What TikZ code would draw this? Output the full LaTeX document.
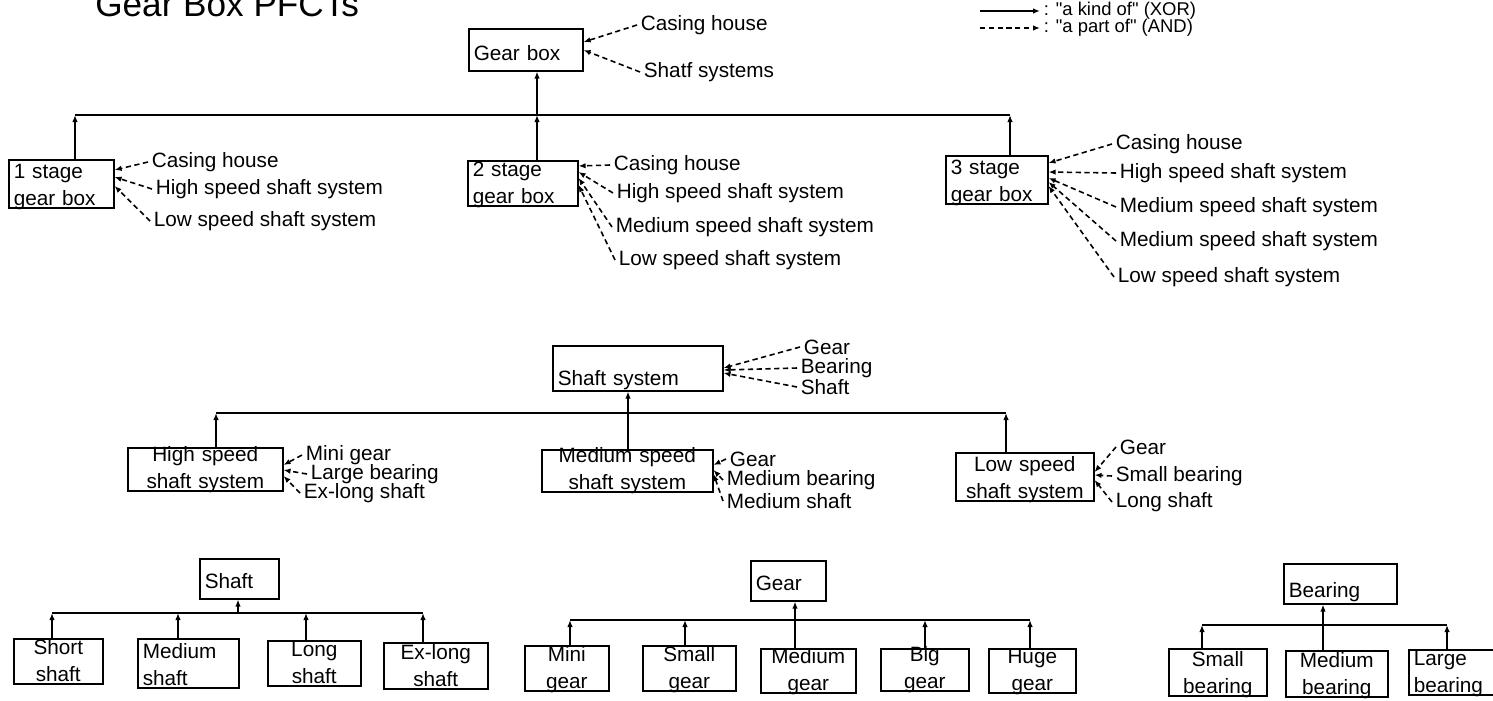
\documentclass[tikz,border=0pt]{standalone}
\usepackage{fontspec}
\setmainfont{Liberation Sans}
\newfontfamily\legendfont{Liberation Sans}
\usetikzlibrary{arrows.meta, positioning, calc}
\newcommand{\lblfont}{\fontsize{11.8}{15.4}\selectfont}

\begin{document}
\begin{tikzpicture}[
  x=0.02cm, y=-0.02cm,
  box/.style={draw, line width=0.9pt, anchor=north west, inner xsep=0.1cm,
              inner ysep=0pt, font=\lblfont},
  one/.style={box, align=left, text depth=0pt},
  two/.style={box, text depth=15.4pt},
  dims/.style n args={3}{text width=#1cm, minimum height=#2cm, text height=#3cm},
  lbl/.style={anchor=west, inner sep=2pt, font=\lblfont},
  kind/.style={-{Latex[length=1.4mm,width=1.1mm]}, line width=0.9pt},
  part/.style={kind, dash pattern=on 3pt off 2pt},
  bar/.style={line width=0.9pt}
]
  \useasboundingbox (0,0) rectangle (1493,700);

  % title and legend
  \node[anchor=base west, inner sep=0pt, font=\fontsize{20}{24}\selectfont] (title) at (95,16) {Gear Box PFCTs};
  \coordinate (k0) at (980,11);
  \coordinate (p0) at (980,28);
  \node[lbl, font=\legendfont\fontsize{10.5}{12}\selectfont] (kindtxt) at (1040,11) {: "a kind of" (XOR)};
  \node[lbl, font=\legendfont\fontsize{10.5}{12}\selectfont] (parttxt) at (1040,28) {: "a part of" (AND)};
  \draw[kind] (k0) -- (kindtxt.west);
  \draw[part] (p0) -- (parttxt.west);

  % gear box level
  \node[one, dims={2.08}{0.84}{0.44}] (gearbox) at (468,28) {Gear box};
  \node[lbl] (gb1) at (637,25) {Casing house};
  \node[lbl] (gb2) at (640,72) {Shatf systems};
  \draw[part] (gb1.west) -- (gearbox.east |- 0,42);
  \draw[part] (gb2.west) -- (gearbox.east |- 0,50);

  \node[two, align=left, dims={1.90}{0.96}{0.34}] (stage1) at (8,159) {1 stage\\gear box};
  \node[two, align=left, dims={2.00}{0.90}{0.28}] (stage2) at (467,160) {2 stage\\gear box};
  \node[two, align=left, dims={1.84}{0.96}{0.34}] (stage3) at (945,155) {3 stage\\gear box};

  \coordinate (t1) at (75,115);
  \coordinate (t2) at (537,115);
  \coordinate (t3) at (1010,115);
  \draw[bar] (t1) -- (t3);
  \draw[kind] (t2) -- (t2 |- gearbox.south);
  \draw[kind] (t1 |- stage1.north) -- (t1);
  \draw[kind] (t2 |- stage2.north) -- (t2);
  \draw[kind] (t3 |- stage3.north) -- (t3);

  % parts of 1 stage
  \node[lbl] (c1a) at (148,162) {Casing house};
  \node[lbl] (c1b) at (152,189) {High speed shaft system};
  \node[lbl] (c1c) at (150,221) {Low speed shaft system};
  \draw[part] (c1a.west) -- (stage1.east |- 0,170);
  \draw[part] (c1b.west) -- (stage1.east |- 0,177);
  \draw[part] (c1c.west) -- (stage1.east |- 0,186);

  % parts of 2 stage
  \node[lbl] (c2a) at (610,165) {Casing house};
  \node[lbl] (c2b) at (613,193) {High speed shaft system};
  \node[lbl] (c2c) at (612,227) {Medium speed shaft system};
  \node[lbl] (c2d) at (615,260) {Low speed shaft system};
  \draw[part] (c2a.west) -- (stage2.east |- 0,166);
  \draw[part] (c2b.west) -- (stage2.east |- 0,172);
  \draw[part] (c2c.west) -- (stage2.east |- 0,178);
  \draw[part] (c2d.west) -- (stage2.east |- 0,185);

  % parts of 3 stage
  \node[lbl] (c3a) at (1112,144) {Casing house};
  \node[lbl] (c3b) at (1116,173) {High speed shaft system};
  \node[lbl] (c3c) at (1116,207) {Medium speed shaft system};
  \node[lbl] (c3d) at (1116,241) {Medium speed shaft system};
  \node[lbl] (c3e) at (1114,277) {Low speed shaft system};
  \draw[part] (c3a.west) -- (stage3.east |- 0,163);
  \draw[part] (c3b.west) -- (stage3.east |- 0,172);
  \draw[part] (c3c.west) -- (stage3.east |- 0,178);
  \draw[part] (c3d.west) -- (stage3.east |- 0,182);
  \draw[part] (c3e.west) -- (stage3.east |- 0,186);

  % shaft system level
  \node[one, dims={3.20}{0.90}{0.70}] (shaftsys) at (552,345) {Shaft system};
  \node[lbl] (ss1) at (800,347) {Gear};
  \node[lbl] (ss2) at (797,368) {Bearing};
  \node[lbl] (ss3) at (797,387) {Shaft};
  \draw[part] (ss1.west) -- (shaftsys.east |- 0,368);
  \draw[part] (ss2.west) -- (shaftsys.east |- 0,370);
  \draw[part] (ss3.west) -- (shaftsys.east |- 0,373);

  \node[two, align=center, dims={2.90}{0.86}{0.24}] (hsss) at (127,447) {High speed\\shaft system};
  \node[two, align=center, dims={3.22}{0.84}{0.22}] (msss) at (541,449) {Medium speed\\shaft system};
  \node[two, align=center, dims={2.56}{0.96}{0.34}] (lsss) at (955,452) {Low speed\\shaft system};

  \coordinate (m1) at (216,413);
  \coordinate (m2) at (628,413);
  \coordinate (m3) at (1006,413);
  \draw[bar] (m1) -- (m3);
  \draw[kind] (m2) -- (m2 |- shaftsys.south);
  \draw[kind] (m1 |- hsss.north) -- (m1);
  \draw[bar] (m2 |- msss.north) -- (m2);
  \draw[kind] (m3 |- lsss.north) -- (m3);

  \node[lbl] (hs1) at (302,455) {Mini gear};
  \node[lbl] (hs2) at (307,474) {Large bearing};
  \node[lbl] (hs3) at (300,493) {Ex-long shaft};
  \draw[part] (hs1.west) -- (hsss.east |- 0,465);
  \draw[part] (hs2.west) -- (hsss.east |- 0,470);
  \draw[part] (hs3.west) -- (hsss.east |- 0,476);

  \node[lbl] (ms1) at (726,459) {Gear};
  \node[lbl] (ms2) at (723,480) {Medium bearing};
  \node[lbl] (ms3) at (723,501) {Medium shaft};
  \draw[part] (ms1.west) -- (msss.east |- 0,465);
  \draw[part] (ms2.west) -- (msss.east |- 0,470);
  \draw[part] (ms3.west) -- (msss.east |- 0,474);

  \node[lbl] (ls1) at (1116,447) {Gear};
  \node[lbl] (ls2) at (1112,476) {Small bearing};
  \node[lbl] (ls3) at (1112,502) {Long shaft};
  \draw[part] (ls1.west) -- (lsss.east |- 0,472);
  \draw[part] (ls2.west) -- (lsss.east |- 0,475);
  \draw[part] (ls3.west) -- (lsss.east |- 0,480);

  % shaft kinds
  \node[one, dims={1.38}{0.80}{0.40}] (shaft) at (199,558) {Shaft};
  \node[two, align=center, dims={1.58}{0.90}{0.28}] (sshort) at (13,638) {Short\\shaft};
  \node[two, align=left, dims={1.82}{0.98}{0.36}] (smedium) at (137,638) {Medium\\shaft};
  \node[two, align=center, dims={1.66}{0.90}{0.28}] (slong) at (267,640) {Long\\shaft};
  \node[two, align=center, dims={1.88}{0.92}{0.30}] (sexlong) at (383,642) {Ex-long\\shaft};

  \coordinate (sh0) at (238,613);
  \coordinate (sh1) at (52,613);
  \coordinate (sh2) at (178,613);
  \coordinate (sh3) at (306,613);
  \coordinate (sh4) at (423,613);
  \draw[bar] (sh1) -- (sh4);
  \draw[kind] (sh0) -- (sh0 |- shaft.south);
  \draw[kind] (sh1 |- sshort.north) -- (sh1);
  \draw[kind] (sh2 |- smedium.north) -- (sh2);
  \draw[kind] (sh3 |- slong.north) -- (sh3);
  \draw[kind] (sh4 |- sexlong.north) -- (sh4);

  % gear kinds
  \node[one, dims={1.30}{0.80}{0.40}] (gear) at (750,560) {Gear};
  \node[two, align=center, dims={1.48}{0.90}{0.28}] (gmini) at (524,645) {Mini\\gear};
  \node[two, align=center, dims={1.66}{0.90}{0.28}] (gsmall) at (642,645) {Small\\gear};
  \node[two, align=center, dims={1.70}{0.88}{0.26}] (gmedium) at (760,648) {Medium\\gear};
  \node[two, align=center, dims={1.56}{0.84}{0.22}] (gbig) at (880,648) {Big\\gear};
  \node[two, align=center, dims={1.54}{0.88}{0.26}] (ghuge) at (988,648) {Huge\\gear};

  \coordinate (ge0) at (795,620);
  \coordinate (ge1) at (570,620);
  \coordinate (ge2) at (685,620);
  \coordinate (ge4) at (925,620);
  \coordinate (ge5) at (1030,620);
  \draw[bar] (ge1) -- (ge5);
  \draw[kind] (ge0) -- (ge0 |- gear.south);
  \draw[kind] (ge1 |- gmini.north) -- (ge1);
  \draw[kind] (ge2 |- gsmall.north) -- (ge2);
  \draw[bar] (ge0 |- gmedium.north) -- (ge0);
  \draw[kind] (ge4 |- gbig.north) -- (ge4);
  \draw[kind] (ge5 |- ghuge.north) -- (ge5);

  % bearing kinds
  \node[one, dims={2.06}{0.80}{0.56}] (bearing) at (1283,563) {Bearing};
  \node[two, align=center, dims={1.76}{0.94}{0.32}] (bsmall) at (1168,648) {Small\\bearing};
  \node[two, align=center, dims={1.84}{0.92}{0.30}] (bmedium) at (1285,650) {Medium\\bearing};
  \node[two, align=left, dims={1.70}{0.90}{0.28}] (blarge) at (1408,649) {Large\\bearing};

  \coordinate (be0) at (1323,625);
  \coordinate (be1) at (1202,625);
  \coordinate (be3) at (1447,625);
  \draw[bar] (be1) -- (be3);
  \draw[kind] (be0) -- (be0 |- bearing.south);
  \draw[kind] (be1 |- bsmall.north) -- (be1);
  \draw[bar] (be0 |- bmedium.north) -- (be0);
  \draw[kind] (be3 |- blarge.north) -- (be3);
\end{tikzpicture}
\end{document}
